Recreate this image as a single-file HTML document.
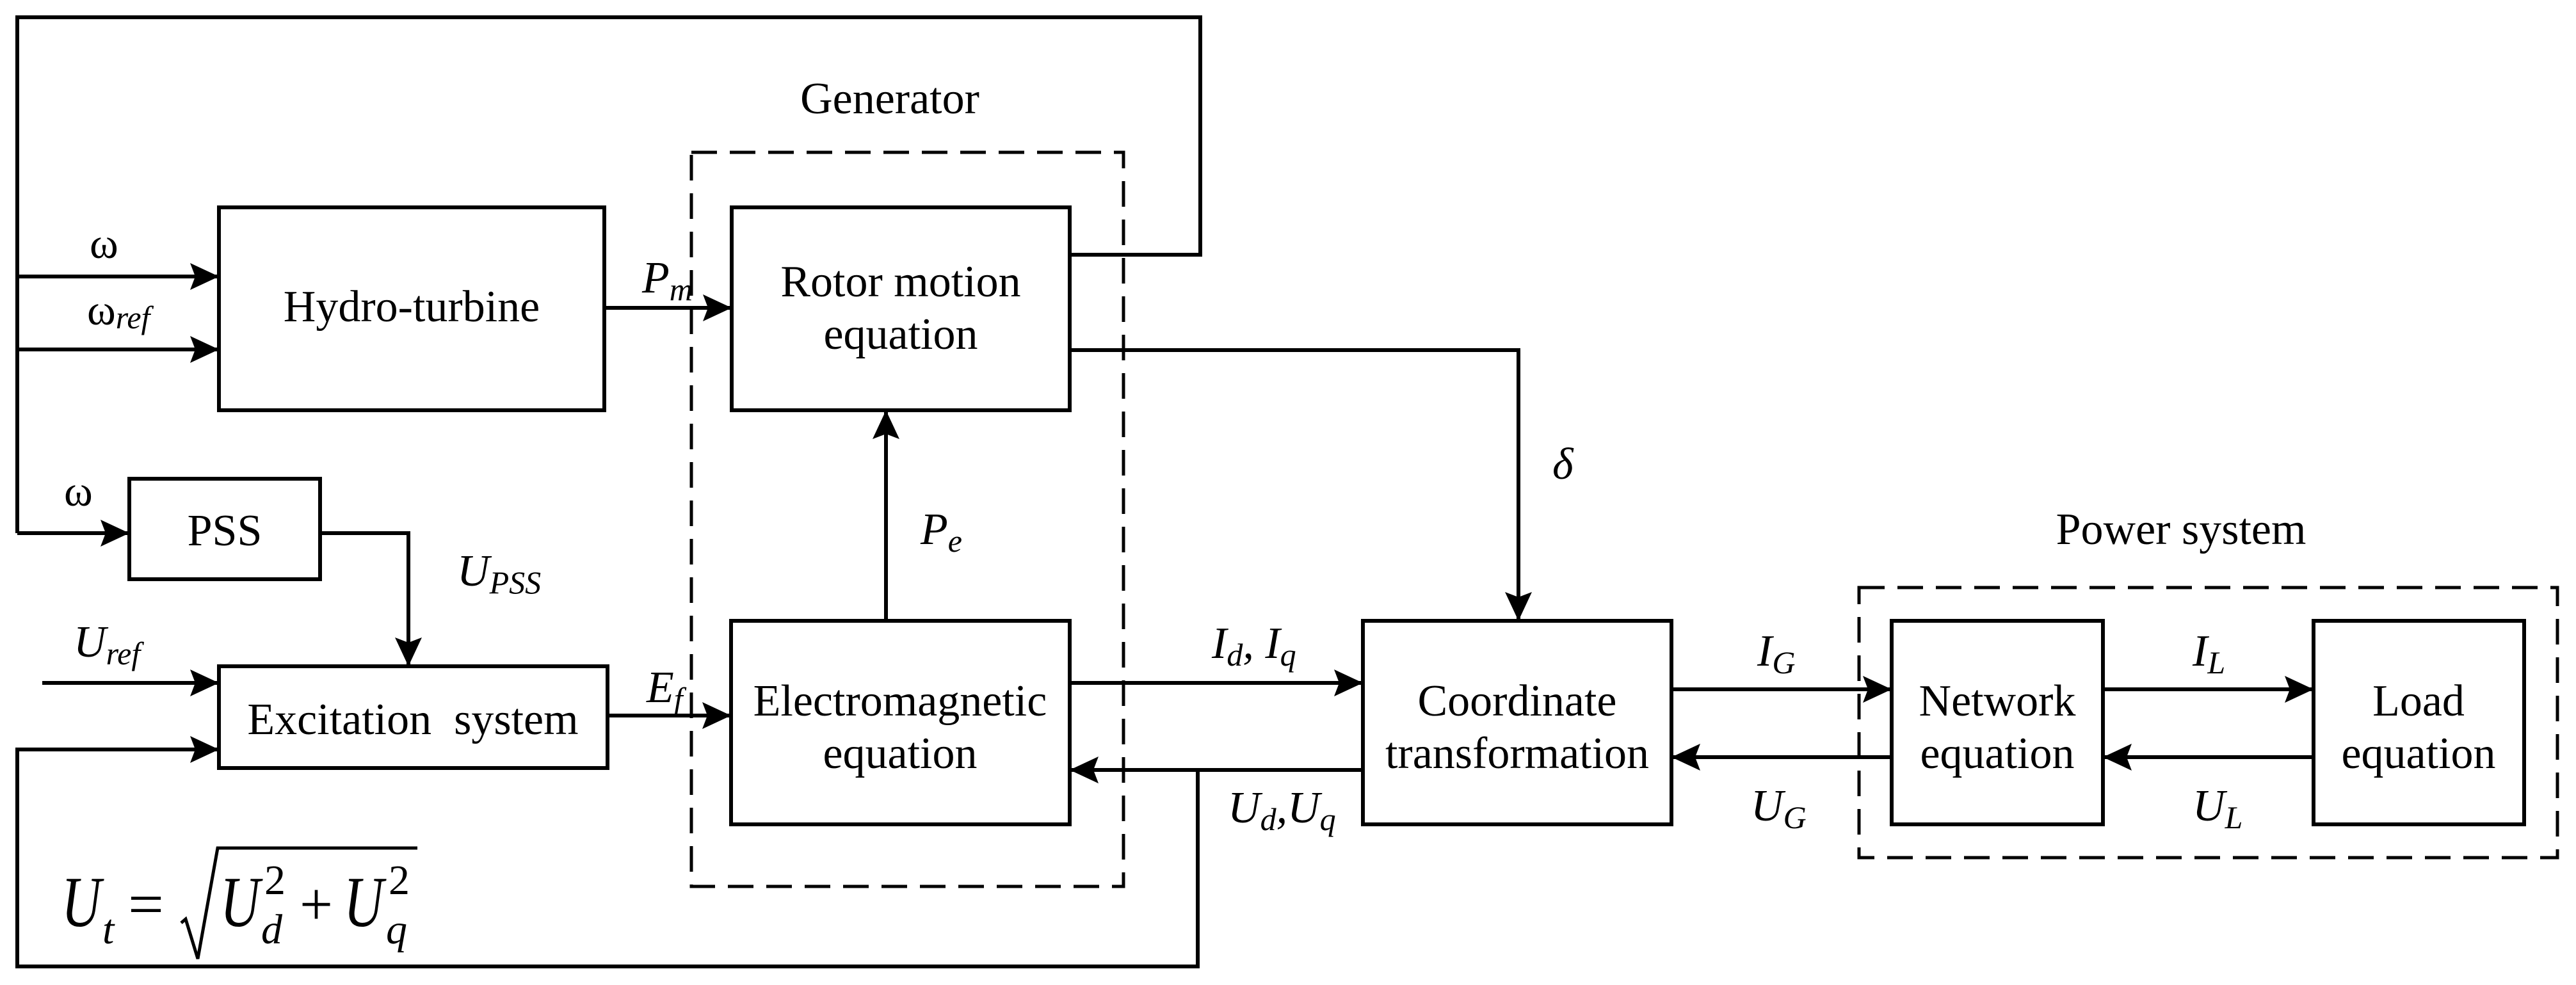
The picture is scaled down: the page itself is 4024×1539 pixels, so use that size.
<!DOCTYPE html>
<html><head><meta charset="utf-8"><style>
html,body{margin:0;padding:0;background:#fff;}
svg{display:block;}
text{font-family:"Liberation Serif","DejaVu Serif",serif;fill:#000;}
.b{font-size:70px;text-anchor:middle;}
.i{font-style:italic;}
</style></head><body>
<svg width="4024" height="1539" viewBox="0 0 4024 1539" xmlns="http://www.w3.org/2000/svg" font-family="Liberation Serif, serif">
<defs>
<marker id="a" viewBox="0 0 45 42" refX="45" refY="21" markerWidth="45" markerHeight="42" markerUnits="userSpaceOnUse" orient="auto">
<path d="M0,0 L45,21 L0,42 L8,21 Z" fill="#000"/>
</marker>
</defs>
<g fill="none" stroke="#000" stroke-width="6">
<rect x="342" y="324" width="602" height="317"/>
<rect x="1143" y="324" width="528" height="317"/>
<rect x="202" y="748" width="298" height="157"/>
<rect x="342" y="1041" width="607" height="159"/>
<rect x="1142" y="970" width="529" height="318"/>
<rect x="2129" y="970" width="482" height="318"/>
<rect x="2955" y="970" width="330" height="318"/>
<rect x="3614" y="970" width="329" height="318"/>
<rect x="1080" y="238" width="675" height="1147" stroke-width="5" stroke-dasharray="40 20"/>
<rect x="2904" y="918" width="1091" height="422" stroke-width="5" stroke-dasharray="40 20"/>
<polyline points="1671,398 1875,398 1875,27 27,27 27,833"/>
<line x1="27" y1="432" x2="342" y2="432" marker-end="url(#a)"/>
<line x1="27" y1="546" x2="342" y2="546" marker-end="url(#a)"/>
<line x1="27" y1="833" x2="202" y2="833" marker-end="url(#a)"/>
<line x1="944" y1="481" x2="1143" y2="481" marker-end="url(#a)"/>
<polyline points="1671,547 2372,547 2372,970" marker-end="url(#a)"/>
<polyline points="500,833 638,833 638,1041" marker-end="url(#a)"/>
<line x1="66" y1="1067" x2="342" y2="1067" marker-end="url(#a)"/>
<polyline points="1871,1203 1871,1510 27,1510 27,1171 342,1171" marker-end="url(#a)"/>
<line x1="949" y1="1118" x2="1142" y2="1118" marker-end="url(#a)"/>
<line x1="1384" y1="970" x2="1384" y2="641" marker-end="url(#a)"/>
<line x1="1671" y1="1067" x2="2129" y2="1067" marker-end="url(#a)"/>
<line x1="2129" y1="1203" x2="1671" y2="1203" marker-end="url(#a)"/>
<line x1="2611" y1="1077" x2="2955" y2="1077" marker-end="url(#a)"/>
<line x1="2955" y1="1183" x2="2611" y2="1183" marker-end="url(#a)"/>
<line x1="3285" y1="1077" x2="3614" y2="1077" marker-end="url(#a)"/>
<line x1="3614" y1="1183" x2="3285" y2="1183" marker-end="url(#a)"/>
<polyline points="283,1442 290,1436 309,1498 340,1325 652,1325" stroke-width="5"/>
</g>
<text class="b" x="643" y="502">Hydro-turbine</text>
<text class="b" x="1407" y="463">Rotor motion</text>
<text class="b" x="1407" y="545">equation</text>
<text class="b" x="351" y="852">PSS</text>
<text class="b" x="645" y="1147">Excitation&#160; system</text>
<text class="b" x="1406" y="1118">Electromagnetic</text>
<text class="b" x="1406" y="1200">equation</text>
<text class="b" x="2370" y="1118">Coordinate</text>
<text class="b" x="2370" y="1200">transformation</text>
<text class="b" x="3120" y="1118">Network</text>
<text class="b" x="3120" y="1200">equation</text>
<text class="b" x="3778" y="1118">Load</text>
<text class="b" x="3778" y="1200">equation</text>
<text class="b" x="1390" y="177">Generator</text>
<text class="b" x="3407" y="850">Power system</text>
<text x="140" y="403" font-size="68">ω</text>
<text x="136" y="507" font-size="68">ω<tspan class="i" font-size="50" dy="6">ref</tspan></text>
<text x="100" y="790" font-size="68">ω</text>
<text class="i" x="1003" y="457" font-size="70">P<tspan font-size="50" dy="12">m</tspan></text>
<text class="i" x="1438" y="850" font-size="70">P<tspan font-size="50" dy="12">e</tspan></text>
<text class="i" x="714" y="915" font-size="70">U<tspan font-size="50" dy="12">PSS</tspan></text>
<text class="i" x="115" y="1026" font-size="70">U<tspan font-size="50" dy="12">ref</tspan></text>
<text class="i" x="1010" y="1097" font-size="70">E<tspan font-size="50" dy="12">f</tspan></text>
<text class="i" x="2425" y="748" font-size="70">δ</text>
<text class="i" x="1893" y="1028" font-size="70">I<tspan font-size="50" dy="12">d</tspan><tspan dy="-12">, I</tspan><tspan font-size="50" dy="12">q</tspan></text>
<text class="i" x="1918" y="1285" font-size="70">U<tspan font-size="50" dy="12">d</tspan><tspan dy="-12">,U</tspan><tspan font-size="50" dy="12">q</tspan></text>
<text class="i" x="2745" y="1040" font-size="70">I<tspan font-size="50" dy="12">G</tspan></text>
<text class="i" x="2735" y="1282" font-size="70">U<tspan font-size="50" dy="12">G</tspan></text>
<text class="i" x="3425" y="1040" font-size="70">I<tspan font-size="50" dy="12">L</tspan></text>
<text class="i" x="3425" y="1282" font-size="70">U<tspan font-size="50" dy="12">L</tspan></text>
<text class="i" x="96" y="1447" font-size="112" textLength="62" lengthAdjust="spacingAndGlyphs">U</text>
<text class="i" x="160" y="1474" font-size="66">t</text>
<text x="200" y="1445" font-size="96" textLength="56" lengthAdjust="spacingAndGlyphs">=</text>
<text class="i" x="344" y="1447" font-size="112" textLength="62" lengthAdjust="spacingAndGlyphs">U</text>
<text x="413" y="1397" font-size="66">2</text>
<text class="i" x="408" y="1474" font-size="66">d</text>
<text x="468" y="1445" font-size="96" textLength="52" lengthAdjust="spacingAndGlyphs">+</text>
<text class="i" x="537" y="1447" font-size="112" textLength="62" lengthAdjust="spacingAndGlyphs">U</text>
<text x="607" y="1397" font-size="66">2</text>
<text class="i" x="603" y="1474" font-size="66">q</text>
</svg>
</body></html>
